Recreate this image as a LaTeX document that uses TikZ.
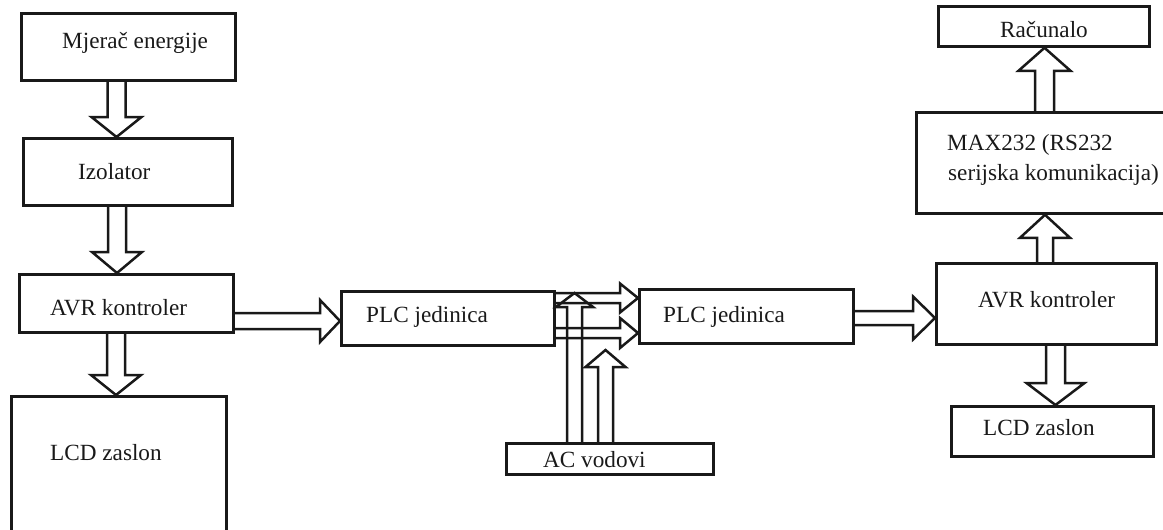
\documentclass[tikz,border=0pt]{standalone}
\usepackage{fontspec}
\setmainfont{Liberation Serif}
\usetikzlibrary{calc}
\definecolor{ink}{RGB}{25,25,25}
\begin{document}
\begin{tikzpicture}[x=1pt,y=-1pt,
  box/.style={draw=ink, line width=2.8pt, rectangle, inner sep=0pt, anchor=north west},
  lbl/.style={anchor=base west, inner sep=0pt, font=\fontsize{23.2}{27}\selectfont, text=ink},
  fat/.style n args={3}{draw=ink, line width=2.5pt, line join=miter,
    to path={($(\tikztotarget)!#3!(\tikztostart)$) coordinate (fatH)
      ($(\tikztostart)!#1!90:(\tikztotarget)$)
      -- ($(fatH)!#1!90:(\tikztotarget)$)
      -- ($(fatH)!#2!90:(\tikztotarget)$)
      -- (\tikztotarget)
      -- ($(fatH)!#2!-90:(\tikztotarget)$)
      -- ($(fatH)!#1!-90:(\tikztotarget)$)
      -- ($(\tikztostart)!#1!-90:(\tikztotarget)$)}}]
\useasboundingbox (0,0) rectangle (1163,530);

% boxes
\node[box, minimum width=214pt, minimum height=67pt] (m) at (20,12) {};
\node[box, minimum width=209pt, minimum height=67pt] (iz) at (22,137) {};
\node[box, minimum width=214pt, minimum height=58pt] (avrL) at (18,273) {};
\node[box, minimum width=215pt, minimum height=140pt] (lcdL) at (10,395) {};
\node[box, minimum width=213pt, minimum height=54pt] (plc1) at (340,290) {};
\node[box, minimum width=214pt, minimum height=54pt] (plc2) at (638,288) {};
\node[box, minimum width=207pt, minimum height=31pt] (ac) at (505,442) {};
\node[box, minimum width=211pt, minimum height=40pt] (rac) at (937,5) {};
\node[box, minimum width=255pt, minimum height=101pt] (max) at (915,111) {};
\node[box, minimum width=220pt, minimum height=81pt] (avrR) at (935,262) {};
\node[box, minimum width=202pt, minimum height=50pt] (lcdR) at (950,405) {};

% labels
\node[lbl] (tm) at (62,48) {Mjerač energije};
\node[lbl] (tiz) at (78,179) {Izolator};
\node[lbl] (tavrL) at (50,315) {AVR kontroler};
\node[lbl] (tlcdL) at (50,460) {LCD zaslon};
\node[lbl] (tplc1) at (366,322) {PLC jedinica};
\node[lbl] (tplc2) at (663,322) {PLC jedinica};
\node[lbl] (tac) at (543,467) {AC vodovi};
\node[lbl] (trac) at (1000,37) {Računalo};
\node[lbl] (tmax1) at (947,150) {MAX232 (RS232};
\node[lbl] (tmax2) at (948,180) {serijska komunikacija)};
\node[lbl] (tavrR) at (978,307) {AVR kontroler};
\node[lbl] (tlcdR) at (983,435) {LCD zaslon};

% block arrows
\draw[fat={9pt}{25pt}{20pt}] (m.south -| 116.5,0) to (iz.north -| 116.5,0);
\draw[fat={9pt}{25pt}{21pt}] (iz.south -| 117,0) to (avrL.north -| 117,0);
\draw[fat={9pt}{25pt}{20pt}] (avrL.south -| 116,0) to (lcdL.north -| 116,0);
\draw[fat={8pt}{21pt}{20pt}] (avrL.east |- 0,321) to (plc1.west |- 0,321);
\draw[fat={5pt}{14.5pt}{18pt}] (plc1.east |- 0,298) to (plc2.west |- 0,298);
\draw[fat={5pt}{15pt}{18pt}] (plc1.east |- 0,333) to (plc2.west |- 0,333);
\draw[fat={7.5pt}{18.5pt}{14pt}] (ac.north -| 574.5,0) to (574.5,293);
\draw[fat={7.5pt}{20pt}{17pt}] (ac.north -| 605.5,0) to (605.5,350);
\draw[fat={7pt}{21.5pt}{22pt}] (plc2.east |- 0,318) to (avrR.west |- 0,318);
\draw[fat={8pt}{25pt}{23pt}] (avrR.north -| 1045,0) to (max.south -| 1045,0);
\draw[fat={9.5pt}{26pt}{23pt}] (max.north -| 1044.5,0) to (rac.south -| 1044.5,0);
\draw[fat={9.5pt}{29pt}{22pt}] (avrR.south -| 1055.5,0) to (lcdR.north -| 1055.5,0);
\end{tikzpicture}
\end{document}
